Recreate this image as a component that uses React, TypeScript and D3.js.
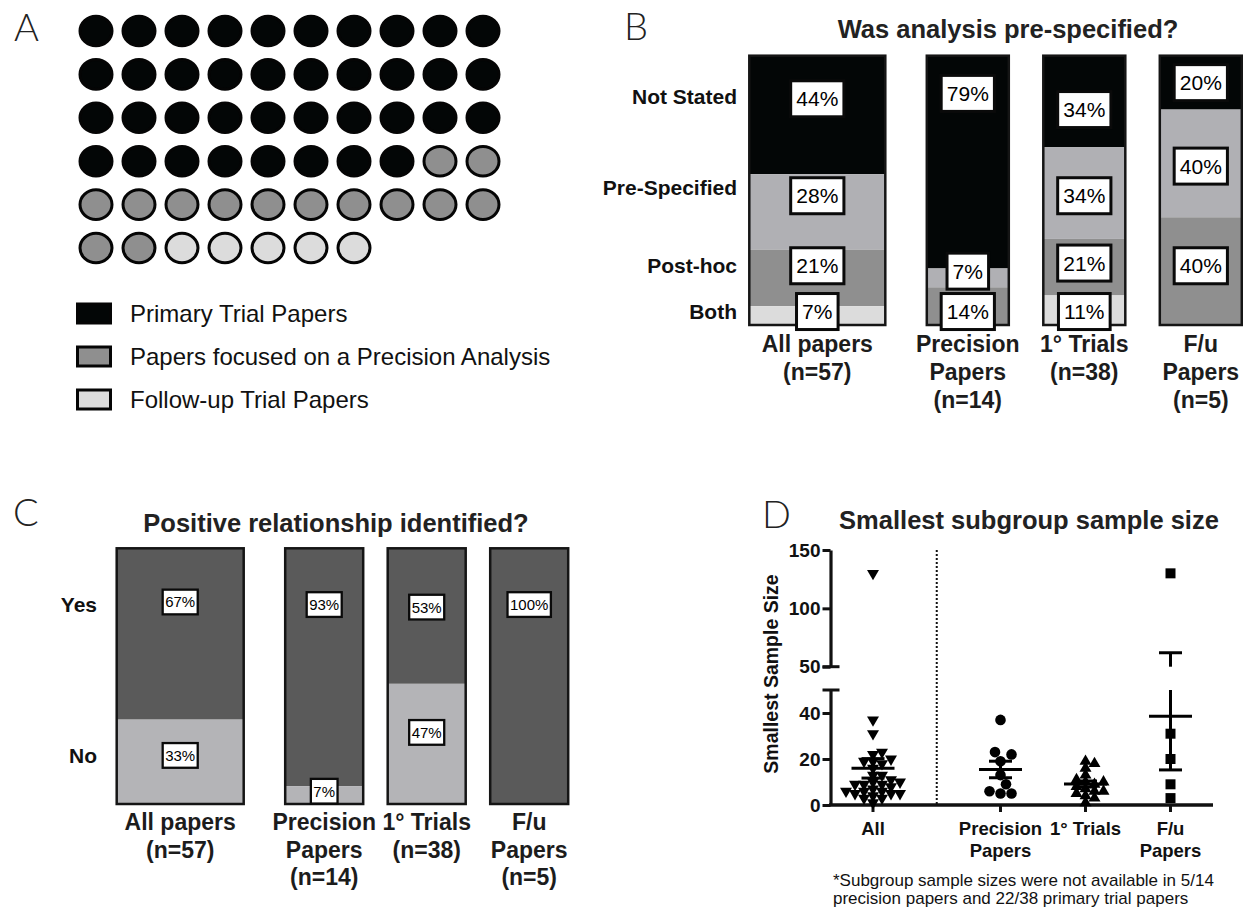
import React, { useEffect, useRef } from 'react'
import * as d3 from 'd3'

const W = 1243
const H = 909
const FONT = '"Liberation Sans", Arial, Helvetica, sans-serif'
const LETTER_FONT = 'Lato, "Liberation Sans", Arial, sans-serif'
const INK = '#111111'

// ---- Panel A: paper mix ----
const paperTypes = ['Primary Trial Papers', 'Papers focused on a Precision Analysis', 'Follow-up Trial Papers']
const paperCounts = [38, 14, 5]
const paperColors = ['#030606', '#8f8f8f', '#dcdcdc']

// ---- Panel B: was analysis pre-specified ----
const groupLines = [
  ['All papers', '(n=57)'],
  ['Precision', 'Papers', '(n=14)'],
  ['1° Trials', '(n=38)'],
  ['F/u', 'Papers', '(n=5)'],
]
const analysisKeys = ['Not Stated', 'Pre-Specified', 'Post-hoc', 'Both']
const notStated = [44, 79, 34, 20]
const preSpecified = [28, 7, 34, 40]
const postHoc = [21, 14, 21, 40]
const both = [7, 0, 11, 0]
const analysisColors = ['#030606', '#b0b0b4', '#8f8f8f', '#dcdcdc']
// row label anchors and % tag anchors, in % of bar height from the top
const analysisRowAt = [15, 49, 78, 95]
const analysisTagAt = [
  [16, 52, 78, 95],
  [14, 80, 95, 0],
  [20, 52, 77, 95],
  [10, 41, 78, 0],
]

// ---- Panel C: positive relationship ----
const relKeys = ['Yes', 'No']
const yesPct = [67, 93, 53, 100]
const noPct = [33, 7, 47, 0]
const relColors = ['#5a5a5a', '#b4b4b7']
const relRowAt = [22, 81]
const relTagAt = [
  [21, 81],
  [22, 95],
  [23, 72],
  [22, 0],
]

// ---- Panel D: smallest subgroup sample size ----
const sizeGroups = [['All'], ['Precision', 'Papers'], ['1° Trials'], ['F/u', 'Papers']]
const precisionSizes = [37, 23, 22, 19, 13, 9, 6, 5, 5]
const trialSizes = [19, 18, 16, 13, 11, 10, 10, 9, 8, 7, 6, 6, 5, 4, 3, 1]
const followUpSizes = [130, 31, 20, 9, 3]
const allSizes = [...precisionSizes, ...trialSizes, ...followUpSizes]
const lowTicks = [0, 20, 40]
const highTicks = [50, 100, 150]

type Sel = d3.Selection<any, unknown, null, undefined>

function barLayout(start: number, wide: number, narrow: number, firstGap: number, gap: number) {
  const lefts: number[] = []
  const widths: number[] = []
  let x = start
  groupLines.forEach((_, i) => {
    const w = i === 0 ? wide : narrow
    lefts.push(x)
    widths.push(w)
    x += w + (i === 0 ? firstGap : gap)
  })
  return { lefts, widths }
}

function tag(g: Sel, x: number, y: number, label: string, size: number, stroke: number, padX: number, boxH: number) {
  const grp = g.append('g')
  const rect = grp.append('rect')
  const t = grp
    .append('text')
    .attr('x', x)
    .attr('y', y)
    .attr('text-anchor', 'middle')
    .attr('dominant-baseline', 'central')
    .style('font-family', FONT)
    .style('font-size', size + 'px')
    .attr('fill', '#000')
    .text(label)
  const w = (t.node() as SVGTextElement).getComputedTextLength()
  rect
    .attr('x', x - w / 2 - padX)
    .attr('y', y - boxH / 2)
    .attr('width', w + 2 * padX)
    .attr('height', boxH)
    .attr('fill', '#fff')
    .attr('stroke', '#0a0a0a')
    .attr('stroke-width', stroke)
}

function letter(svg: Sel, x: number, y: number, s: string) {
  svg
    .append('text')
    .attr('x', x)
    .attr('y', y)
    .style('font-family', LETTER_FONT)
    .style('font-weight', '300')
    .style('font-size', '38px')
    .attr('fill', '#222')
    .text(s)
}

function title(svg: Sel, x: number, y: number, s: string) {
  svg
    .append('text')
    .attr('x', x)
    .attr('y', y)
    .attr('text-anchor', 'middle')
    .attr('dominant-baseline', 'central')
    .style('font-family', FONT)
    .style('font-weight', 'bold')
    .style('font-size', '25.5px')
    .attr('fill', '#222')
    .text(s)
}

function drawA(svg: Sel) {
  letter(svg, 14, 41, 'A')
  const colX = d3.scaleLinear().domain([0, 9]).range([96, 483])
  const rowY = d3.scaleLinear().domain([0, 5]).range([31, 248])
  const dots: number[] = []
  paperCounts.forEach((n, k) => d3.range(n).forEach(() => dots.push(k)))
  svg
    .append('g')
    .selectAll('ellipse')
    .data(dots)
    .enter()
    .append('ellipse')
    .attr('cx', (_, i) => colX(i % 10))
    .attr('cy', (_, i) => rowY(Math.floor(i / 10)))
    .attr('rx', 16)
    .attr('ry', 14.8)
    .attr('fill', (k) => paperColors[k])
    .attr('stroke', '#050505')
    .attr('stroke-width', 3)

  const legY = d3.scaleLinear().domain([0, 2]).range([313.5, 399.5])
  const leg = svg.append('g')
  leg
    .selectAll('rect')
    .data(paperTypes)
    .enter()
    .append('rect')
    .attr('x', 77.5)
    .attr('y', (_, i) => legY(i) - 9.5)
    .attr('width', 33)
    .attr('height', 19)
    .attr('fill', (_, i) => paperColors[i])
    .attr('stroke', '#050505')
    .attr('stroke-width', 3)
  leg
    .selectAll('text')
    .data(paperTypes)
    .enter()
    .append('text')
    .attr('x', 130)
    .attr('y', (_, i) => legY(i))
    .attr('dominant-baseline', 'central')
    .style('font-family', FONT)
    .style('font-size', '24px')
    .attr('fill', INK)
    .text((d) => d)
}

function stackedPanel(
  svg: Sel,
  keys: string[],
  series: number[][],
  colors: string[],
  rowAt: number[],
  tagAt: number[][],
  opts: {
    y: d3.ScaleLinear<number, number>
    layout: { lefts: number[]; widths: number[] }
    rowX: number
    rowSize: number
    labelY: number
    labelStep: number
    tagSize: number
    tagStroke: number
    tagPad: number
    tagH: number
    outline: number
  }
) {
  const { y, layout } = opts
  const rows = groupLines.map((_, i) => {
    const r: Record<string, number> = {}
    keys.forEach((k, j) => (r[k] = series[j][i]))
    return r
  })
  const stacked = d3.stack<Record<string, number>>().keys(keys)(rows)
  const g = svg.append('g')

  stacked.forEach((s, j) => {
    g.append('g')
      .selectAll('rect')
      .data(s)
      .enter()
      .append('rect')
      .attr('x', (_, i) => layout.lefts[i])
      .attr('width', (_, i) => layout.widths[i])
      .attr('y', (d) => y(d[0]))
      .attr('height', (d) => y(d[1]) - y(d[0]))
      .attr('fill', colors[j])
  })

  g.append('g')
    .selectAll('rect')
    .data(groupLines)
    .enter()
    .append('rect')
    .attr('x', (_, i) => layout.lefts[i])
    .attr('width', (_, i) => layout.widths[i])
    .attr('y', y(0))
    .attr('height', y(100) - y(0))
    .attr('fill', 'none')
    .attr('stroke', '#151515')
    .attr('stroke-width', opts.outline)

  stacked.forEach((s, j) => {
    s.forEach((d, i) => {
      const v = series[j][i]
      if (!v) return
      const cx = layout.lefts[i] + layout.widths[i] / 2
      tag(g, cx, y(tagAt[i][j]), `${v}%`, opts.tagSize, opts.tagStroke, opts.tagPad, opts.tagH)
    })
  })

  g.append('g')
    .selectAll('text')
    .data(keys)
    .enter()
    .append('text')
    .attr('x', opts.rowX)
    .attr('y', (_, j) => y(rowAt[j]))
    .attr('text-anchor', 'end')
    .attr('dominant-baseline', 'central')
    .style('font-family', FONT)
    .style('font-weight', 'bold')
    .style('font-size', opts.rowSize + 'px')
    .attr('fill', INK)
    .text((d) => d)

  groupLines.forEach((lines, i) => {
    const cx = layout.lefts[i] + layout.widths[i] / 2
    lines.forEach((s, k) => {
      g.append('text')
        .attr('x', cx)
        .attr('y', opts.labelY + k * opts.labelStep)
        .attr('text-anchor', 'middle')
        .attr('dominant-baseline', 'central')
        .style('font-family', FONT)
        .style('font-weight', 'bold')
        .style('font-size', '23px')
        .attr('fill', '#1c1c1c')
        .text(s)
    })
  })
}

function drawB(svg: Sel) {
  letter(svg, 624, 40, 'B')
  title(svg, 1008, 28.5, 'Was analysis pre-specified?')
  stackedPanel(svg, analysisKeys, [notStated, preSpecified, postHoc, both], analysisColors, analysisRowAt, analysisTagAt, {
    y: d3.scaleLinear().domain([0, 100]).range([55.7, 325]),
    layout: barLayout(749.3, 136, 82, 41.5, 34.5),
    rowX: 737,
    rowSize: 21,
    labelY: 343.5,
    labelStep: 28,
    tagSize: 21,
    tagStroke: 3,
    tagPad: 5.6,
    tagH: 36,
    outline: 2.5,
  })
}

function drawC(svg: Sel) {
  letter(svg, 13, 526, 'C')
  title(svg, 336, 523, 'Positive relationship identified?')
  stackedPanel(svg, relKeys, [yesPct, noPct], relColors, relRowAt, relTagAt, {
    y: d3.scaleLinear().domain([0, 100]).range([548.3, 804]),
    layout: barLayout(116.7, 127, 78, 41.5, 24.5),
    rowX: 97,
    rowSize: 21,
    labelY: 822,
    labelStep: 27.5,
    tagSize: 15,
    tagStroke: 2.3,
    tagPad: 2.5,
    tagH: 24.7,
    outline: 2.5,
  })
}

// simple deterministic swarm: each point takes the nearest free slot beside the centre
function swarm(values: number[], yOf: (v: number) => number, cx: number, minDist: number, step: number) {
  const order = values.map((v, i) => ({ v, i })).sort((a, b) => a.v - b.v)
  const placed: { x: number; y: number }[] = []
  const out: { x: number; y: number }[] = new Array(values.length)
  order.forEach(({ v, i }) => {
    const y = yOf(v)
    let x = cx
    for (let k = 0; k < 40; k++) {
      const off = k === 0 ? 0 : (k % 2 === 1 ? 1 : -1) * Math.ceil(k / 2) * step
      x = cx + off
      if (!placed.some((p) => Math.hypot(p.x - x, p.y - y) < minDist)) break
    }
    placed.push({ x, y })
    out[i] = { x, y }
  })
  return out
}

function drawD(svg: Sel) {
  letter(svg, 762, 528, 'D')
  title(svg, 1029, 520, 'Smallest subgroup sample size')

  const yLow = d3.scaleLinear().domain([0, 50]).range([805, 690])
  const yHigh = d3.scaleLinear().domain([50, 150]).range([666.7, 550])
  const yD = (v: number) => (v <= 50 ? yLow(v) : yHigh(v))
  const slots = [0, 1.5, 2.5, 3.5]
  const xD = d3.scaleLinear().domain([0, 3.5]).range([873, 1170.5])
  const x0 = xD(-0.5)
  const g = svg.append('g')

  const styleAxis = (a: Sel) => {
    a.select('.domain').attr('stroke', INK).attr('stroke-width', 3.2)
    a.selectAll('.tick line').attr('stroke', INK).attr('stroke-width', 3)
    a.selectAll('.tick text')
      .style('font-family', FONT)
      .style('font-weight', 'bold')
      .style('font-size', '19px')
      .attr('fill', INK)
  }
  const low = g
    .append('g')
    .attr('transform', `translate(${x0},0)`)
    .call(d3.axisLeft(yLow).tickValues(lowTicks).tickSize(8).tickPadding(2).tickSizeOuter(0))
  styleAxis(low)
  const high = g
    .append('g')
    .attr('transform', `translate(${x0},0)`)
    .call(d3.axisLeft(yHigh).tickValues(highTicks).tickSize(8).tickPadding(2).tickSizeOuter(0))
  styleAxis(high)

  // axis break marks
  ;[yLow(50), yHigh(50)].forEach((yy) => {
    g.append('line')
      .attr('x1', x0 - 8)
      .attr('x2', x0 + 9)
      .attr('y1', yy)
      .attr('y2', yy)
      .attr('stroke', INK)
      .attr('stroke-width', 3)
  })

  // x axis
  g.append('line')
    .attr('x1', x0 - 1.5)
    .attr('x2', xD(4))
    .attr('y1', yLow(0))
    .attr('y2', yLow(0))
    .attr('stroke', INK)
    .attr('stroke-width', 3.5)
  g.append('g')
    .selectAll('line')
    .data(slots)
    .enter()
    .append('line')
    .attr('x1', (d) => xD(d))
    .attr('x2', (d) => xD(d))
    .attr('y1', yLow(0))
    .attr('y2', yLow(0) + 7)
    .attr('stroke', INK)
    .attr('stroke-width', 3)

  // divider between All and sub-groups
  g.append('line')
    .attr('x1', xD(0.75))
    .attr('x2', xD(0.75))
    .attr('y1', yHigh(150))
    .attr('y2', yLow(0))
    .attr('stroke', INK)
    .attr('stroke-width', 2)
    .attr('stroke-dasharray', '2,2')

  const groups = [allSizes, precisionSizes, trialSizes, followUpSizes]
  const shapes = [
    { type: d3.symbolTriangle, size: 62, rot: 180, min: 6.5, step: 4.5 },
    { type: d3.symbolCircle, size: 88, rot: 0, min: 10, step: 5.5 },
    { type: d3.symbolTriangle, size: 62, rot: 0, min: 6.5, step: 4.5 },
    { type: d3.symbolSquare, size: 100, rot: 0, min: 10, step: 5.5 },
  ]

  groups.forEach((vals, gi) => {
    const cx = xD(slots[gi])
    const sh = shapes[gi]
    const pts = swarm(vals, yD, cx, sh.min, sh.step)
    const path = d3.symbol().type(sh.type).size(sh.size)()
    g.append('g')
      .selectAll('path')
      .data(pts)
      .enter()
      .append('path')
      .attr('d', path)
      .attr('transform', (p) => `translate(${p.x},${p.y}) rotate(${sh.rot})`)
      .attr('fill', '#000')

    const mean = d3.mean(vals) as number
    const sem = (d3.deviation(vals) as number) / Math.sqrt(vals.length)
    const lo = mean - sem
    const hi = mean + sem
    const seg = (a: number, b: number) =>
      g.append('line').attr('x1', cx).attr('x2', cx).attr('y1', a).attr('y2', b).attr('stroke', '#000').attr('stroke-width', 3)
    if (lo < 50) seg(yLow(lo), yLow(Math.min(hi, 50)))
    if (hi > 50) seg(yHigh(Math.max(lo, 50)), yHigh(hi))
    const hline = (yy: number, half: number) =>
      g.append('line').attr('x1', cx - half).attr('x2', cx + half).attr('y1', yy).attr('y2', yy).attr('stroke', '#000').attr('stroke-width', 3)
    hline(yD(mean), 21.5)
    hline(yD(lo), 11.5)
    hline(yD(hi), 11.5)
  })

  sizeGroups.forEach((lines, gi) => {
    lines.forEach((s, k) => {
      g.append('text')
        .attr('x', xD(slots[gi]))
        .attr('y', 828.5 + k * 22)
        .attr('text-anchor', 'middle')
        .attr('dominant-baseline', 'central')
        .style('font-family', FONT)
        .style('font-weight', 'bold')
        .style('font-size', '18.5px')
        .attr('fill', INK)
        .text(s)
    })
  })

  g.append('text')
    .attr('transform', 'translate(770.5,674) rotate(-90)')
    .attr('text-anchor', 'middle')
    .attr('dominant-baseline', 'central')
    .style('font-family', FONT)
    .style('font-weight', 'bold')
    .style('font-size', '19.5px')
    .attr('fill', INK)
    .text('Smallest Sample Size')

  const notes = ['*Subgroup sample sizes were not available in 5/14', 'precision papers and 22/38 primary trial papers']
  notes.forEach((s, k) => {
    g.append('text')
      .attr('x', 833)
      .attr('y', 880 + k * 18.3)
      .attr('dominant-baseline', 'central')
      .style('font-family', FONT)
      .style('font-size', '17px')
      .attr('fill', INK)
      .text(s)
  })
}

export default function App() {
  const svgRef = useRef<SVGSVGElement>(null)

  useEffect(() => {
    if (!svgRef.current) return
    const svg = d3.select(svgRef.current)
    svg.selectAll('*').remove()
    drawA(svg)
    drawB(svg)
    drawC(svg)
    drawD(svg)
  }, [])

  return (
    <svg
      ref={svgRef}
      width={W}
      height={H}
      style={{ position: 'absolute', left: 0, top: 0, background: '#fff' }}
    />
  )
}
